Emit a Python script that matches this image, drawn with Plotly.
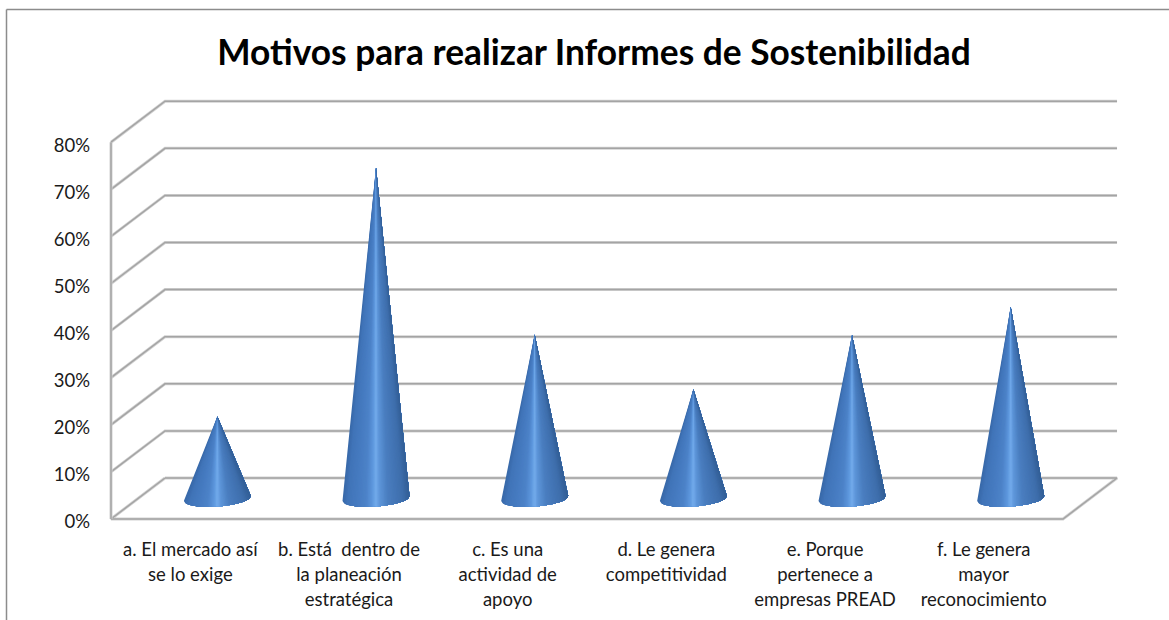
import plotly.graph_objects as go
import math

categories_line1 = ["a. El mercado así", "b. Está  dentro de", "c. Es una", "d. Le genera", "e. Porque", "f. Le genera"]
categories_line2 = ["se lo exige", "la planeación", "actividad de", "competitividad", "pertenece a", "mayor"]
categories_line3 = ["", "estratégica", "apoyo", "", "empresas PREAD", "reconocimiento"]
values = [17.4, 70.3, 34.8, 23.2, 34.7, 40.7]
y_ticks = [0, 10, 20, 30, 40, 50, 60, 70, 80]
y_labels = ["0%", "10%", "20%", "30%", "40%", "50%", "60%", "70%", "80%"]
title = "Motivos para realizar Informes de Sostenibilidad"

W, H = 1169, 620
PAD = 3
FRONT_L, BACK_R, BACK_T, FRONT_B = 111, 1118, 102, 519
L, R, T, B = FRONT_L - PAD, BACK_R + PAD, BACK_T - PAD, FRONT_B + PAD
UNIT_X = 158.67
UNIT_Y = 4.71
DEPTH_X = 54 / UNIT_X
DEPTH_Y = 41 / UNIT_Y
X0, X1 = -0.5, 5.5
FONT = "Lato"

fig = go.Figure()

def line(xs, ys):
    # soft shadow under a darker core, as the reference's gridlines have
    for color, width in (("#d2d2d2", 3), ("#a4a4a4", 1.5)):
        fig.add_trace(go.Scatter(x=xs, y=ys, mode="lines", line=dict(color=color, width=width),
                                 hoverinfo="skip", showlegend=False))

# walls
for v in y_ticks:
    if v == 0:
        continue
    line([X0, X0 + DEPTH_X, X1 + DEPTH_X], [v, v + DEPTH_Y, v + DEPTH_Y])
line([X0 + DEPTH_X, X1 + DEPTH_X, X1, X0, X0 + DEPTH_X], [DEPTH_Y, DEPTH_Y, 0, 0, DEPTH_Y])
line([X0, X0], [0, y_ticks[-1]])

# cones: painted left to right, every layer reaching the cone's right edge, so no seams
stops = [(-1.0, (56, 104, 168)), (-0.85, (64, 116, 184)), (-0.3, (76, 130, 200)), (-0.1, (94, 152, 222)),
         (0.0, (116, 172, 236)), (0.1, (94, 150, 218)), (0.35, (74, 126, 192)), (0.8, (62, 110, 172)), (1.0, (50, 94, 150))]

def colour(u):
    for (a, ca), (b, cb) in zip(stops, stops[1:]):
        if a <= u <= b:
            t = (u - a) / (b - a)
            return "rgb(%d,%d,%d)" % tuple(round(p + (q - p) * t) for p, q in zip(ca, cb))
    return "rgb(50,94,150)"

RX = 33.5 / UNIT_X
RY = 8 / UNIT_Y
TILT = 2.4 / UNIT_Y
N = 48

def base_y(u):
    return DEPTH_Y / 2 - RY * math.sqrt(max(0, 1 - u * u)) + TILT * u

for k in range(N):
    u0 = -1 + 2 * k / N
    us = [-1 + 2 * j / N for j in range(k, N + 1)]
    xs, ys = [], []
    for i, v in enumerate(values):
        cx = i + DEPTH_X / 2
        top = v + DEPTH_Y / 2
        xs += [cx] + [cx + u * RX for u in us] + [cx, None]
        ys += [top] + [base_y(u) for u in us] + [top, None]
    fig.add_trace(go.Scatter(x=xs, y=ys, mode="none", fill="toself", fillcolor=colour(u0 + 1 / N),
                             hoverinfo="skip", showlegend=False))

# extra axes carry the 2nd and 3rd label lines
for ax in ("x2", "x3"):
    fig.add_trace(go.Scatter(x=[0], y=[0], mode="lines", xaxis=ax, line=dict(width=0),
                             hoverinfo="skip", showlegend=False))

pos = list(range(len(categories_line1)))
x_range = [X0 - PAD / UNIT_X, X0 + (R - FRONT_L) / UNIT_X]
y_range = [-PAD / UNIT_Y, (FRONT_B - T) / UNIT_Y]
tick_font = dict(family=FONT, size=18.5, color="#1a1a1a")

def xaxis(text, standoff, **kw):
    return dict(range=x_range, tickmode="array", tickvals=pos, ticktext=text, showgrid=False,
                zeroline=False, showline=False, ticks="", tickfont=tick_font, tickangle=0,
                automargin=False, ticklabelstandoff=standoff, **kw)

fig.update_layout(
    width=W, height=H, autosize=False,
    margin=dict(l=L, r=W - R, t=T, b=H - B, pad=0, autoexpand=False),
    paper_bgcolor="white", plot_bgcolor="white", showlegend=False,
    title=dict(text="<b>" + title + "</b>", x=594 / W, xanchor="center", xref="container",
               y=1 - 53 / H, yanchor="middle", yref="container",
               font=dict(family=FONT, size=35.3, color="black")),
    xaxis=xaxis(categories_line1, 14),
    xaxis2=xaxis(categories_line2, 39, overlaying="x", anchor="y", side="bottom"),
    xaxis3=xaxis(categories_line3, 64, overlaying="x", anchor="y", side="bottom"),
    yaxis=dict(range=y_range, tickmode="array", tickvals=y_ticks, ticktext=y_labels, showgrid=False,
               zeroline=False, showline=False, ticks="", tickfont=tick_font, ticklabelstandoff=17,
               ticklabelshift=3, automargin=False),
    shapes=[
        dict(type="line", xref="paper", yref="paper", x0=(6.5 - L) / (R - L), x1=(W - L) / (R - L),
             y0=(B - 9.5) / (B - T), y1=(B - 9.5) / (B - T), line=dict(color="#8c8c8c", width=1.5)),
        dict(type="line", xref="paper", yref="paper", x0=(6.5 - L) / (R - L), x1=(6.5 - L) / (R - L),
             y0=(B - 9.5) / (B - T), y1=(B - H) / (B - T), line=dict(color="#8c8c8c", width=1.5)),
    ],
)

fig.write_html("out.html", config=dict(displayModeBar=False),
               post_script="document.body.style.margin='0';")
